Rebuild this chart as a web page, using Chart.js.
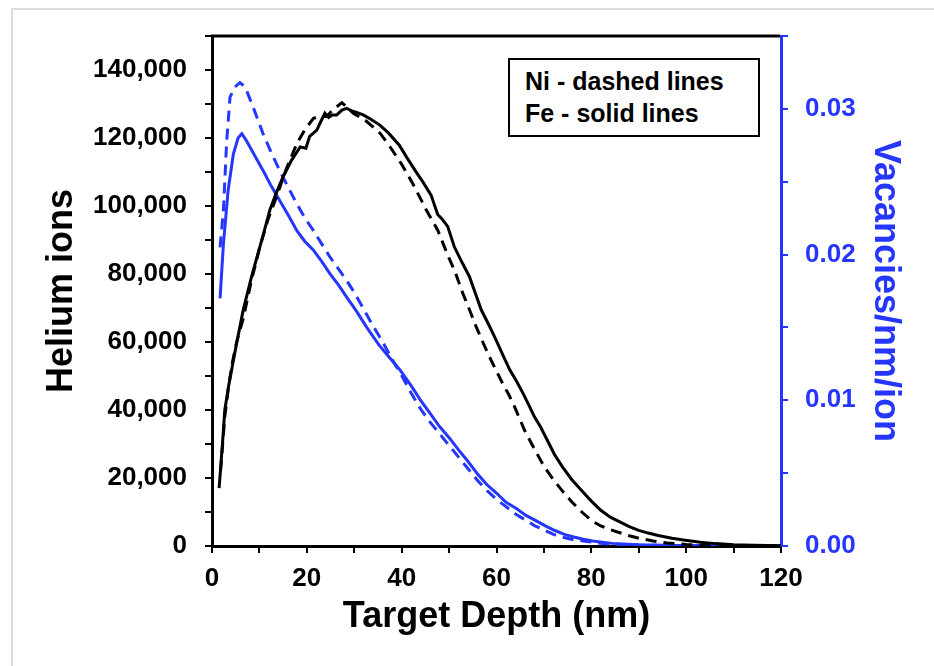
<!DOCTYPE html>
<html>
<head>
<meta charset="utf-8">
<script src="https://cdn.jsdelivr.net/npm/chart.js@4.4.0/dist/chart.umd.min.js"></script>
<style>
  body { margin: 0; background: #fff; }
  #wrap { position: relative; width: 934px; height: 666px; overflow: hidden; }
  #frame { position: absolute; left: 11px; top: 8px; width: 960px; height: 700px;
           border-left: 2px solid #dcdcdc; border-top: 2px solid #dcdcdc; }
  canvas { position: absolute; left: 0; top: 0; }
  #note { position: absolute; left: 508px; top: 58px; width: 252px; height: 79px; box-sizing: border-box;
          border: 2px solid #000; background: #fff; padding: 5px 0 0 15px;
          font: bold 25px "Liberation Sans", Arial, sans-serif; line-height: 32px; color: #000; }
</style>
</head>
<body>
<div id="wrap">
  <div id="frame"></div>
  <canvas id="chart" width="934" height="666"></canvas>
  <div id="note">Ni - dashed lines<br>Fe - solid lines</div>
</div>
<script>
// helium ions vs depth (nm), Fe = solid, Ni = dashed
const depthHeFe = [1.5, 2.2, 2.7, 3.5, 4.3, 5.1, 5.9, 6.6, 7.5, 8.4, 9.4, 10.8, 12.2, 13.6, 15.0, 16.8, 18.6, 19.8, 20.6, 22.1,
  23.0, 23.8, 24.6, 25.4, 26.3, 27.4, 28.4, 29.5, 30.5, 31.9, 33.5, 35.4, 37.2, 39.5, 41.2, 43.0, 44.6, 46.2, 47.6, 48.5,
  49.7, 51.1, 52.7, 54.3, 55.5, 56.8, 58.4, 59.9, 61.4, 62.8, 64.2, 65.6, 66.8, 68.0, 69.3, 70.5, 72.2, 73.9, 75.9, 77.9,
  80.0, 82.0, 84.0, 86.0, 88.0, 90.0, 92.0, 94.1, 97.0, 99.8, 103.0, 106.2, 110.0, 114.3, 120.0];
const heliumFe = [17000, 30000, 40000, 47000, 53000, 59000, 64600, 69500, 74500, 79500, 84500, 91500, 98800, 104000, 108600, 113500, 117400, 117000, 120500, 122300,
  125000, 127300, 126000, 126800, 126800, 128200, 128700, 128000, 127500, 126800, 125500, 123800, 121500, 117900, 114000, 110100, 106800, 103200, 97500, 96200,
  94000, 88000, 83500, 79200, 74500, 69400, 65000, 60600, 56000, 51800, 48500, 44900, 41500, 38000, 35000, 31700, 27000, 23300, 19500, 16400,
  13200, 10500, 8500, 7100, 5700, 4600, 3800, 3100, 2300, 1700, 1100, 700, 400, 200, 50];

const depthHeNi = [1.8, 2.7, 3.5, 4.3, 5.2, 6.6, 8.3, 10.1, 11.8, 13.6, 15.7, 17.9, 19.6, 21.4, 22.5, 24.2, 25.3, 26.3, 27.4, 28.5,
  29.8, 32.5, 35.4, 37.5, 39.9, 42.3, 45.2, 47.6, 49.7, 51.3, 52.9, 54.3, 55.7, 57.1, 58.5, 59.9, 61.3, 62.6, 63.8, 65.9,
  68.0, 70.0, 72.0, 74.0, 76.0, 78.0, 80.0, 82.0, 84.0, 86.0, 88.0, 90.0, 93.0, 96.0, 100.0, 104.0, 110.0, 120.0];
const heliumNi = [22000, 38000, 47000, 54000, 60000, 67000, 78000, 88000, 96000, 102700, 111000, 118400, 122500, 125800, 126300, 126300, 128000, 129200, 130400, 129000,
  127300, 125000, 121500, 117500, 112500, 106700, 98800, 92900, 85600, 80500, 74300, 69500, 64500, 60000, 55700, 51700, 47800, 44500, 41000, 34100,
  28500, 23500, 19500, 16000, 12800, 10000, 7500, 5900, 4800, 3900, 3000, 2300, 1500, 900, 450, 200, 60, 10];

// vacancies per nm per ion vs depth (nm)
const depthVacFe = [1.7, 2.4, 3.4, 4.5, 5.5, 6.3, 7.3, 9.0, 10.8, 12.5, 14.3, 16.1, 17.9, 19.6, 21.4, 23.2, 24.9, 26.7, 28.4, 30.5,
  32.6, 35.2, 37.5, 39.6, 42.0, 44.0, 46.0, 48.0, 50.1, 52.0, 54.0, 56.1, 58.0, 60.1, 62.0, 64.2, 66.2, 68.2, 70.2, 72.2,
  74.3, 76.3, 78.3, 80.3, 84.4, 90.0, 98.0, 110.0, 120.0];
const vacFe = [0.0170, 0.0207, 0.0244, 0.0269, 0.0280, 0.0283, 0.0278, 0.0268, 0.02575, 0.0247, 0.0237, 0.0227, 0.02164, 0.0209, 0.0203, 0.0195, 0.01868, 0.0179, 0.01708, 0.0161,
  0.01502, 0.0138, 0.0129, 0.0121, 0.0110, 0.0100, 0.0091, 0.0082, 0.0074, 0.0066, 0.0058, 0.0049, 0.0042, 0.0036, 0.0030, 0.00257, 0.0021, 0.00176, 0.0014, 0.00108,
  0.0008, 0.00062, 0.00046, 0.00034, 0.00018, 0.00009, 0.00003, 0.00001, 0];

const depthVacNi = [1.7, 2.4, 3.1, 3.8, 4.8, 5.9, 7.0, 8.7, 10.8, 12.5, 14.3, 16.1, 17.9, 19.6, 21.4, 23.2, 24.9, 26.7, 28.4, 30.2,
  33.7, 36.0, 38.0, 40.0, 42.0, 44.0, 46.0, 48.0, 50.0, 52.0, 54.0, 56.0, 58.0, 60.0, 62.0, 64.0, 66.0, 68.0, 70.0, 72.0,
  74.0, 76.0, 78.7, 82.8, 90.0, 100.0, 120.0];
const vacNi = [0.0205, 0.0230, 0.0278, 0.0308, 0.0315, 0.0318, 0.0315, 0.0301, 0.02827, 0.0270, 0.02575, 0.0246, 0.02347, 0.0225, 0.02164, 0.0207, 0.01982, 0.0190, 0.01822, 0.0173,
  0.01525, 0.0140, 0.0128, 0.0117, 0.0105, 0.0094, 0.0085, 0.0077, 0.0069, 0.0061, 0.0053, 0.0045, 0.0038, 0.0032, 0.0027, 0.0022, 0.0018, 0.0014, 0.0011, 0.0008,
  0.0006, 0.00045, 0.00032, 0.00016, 0.00006, 0.00002, 0];

const blue = '#2536ff';
const fontFamily = '"Liberation Sans", Arial, sans-serif';
const tickFont = { family: fontFamily, size: 26, weight: 'bold' };
const titleFont = { family: fontFamily, size: 36, weight: 'bold' };

const pts = (xs, ys) => xs.map((x, i) => ({ x: x, y: ys[i] }));

// black frame line along the top of the plot
const topLine = {
  id: 'topLine',
  afterDraw(chart) {
    const { ctx, chartArea: a } = chart;
    ctx.save();
    ctx.strokeStyle = '#000';
    ctx.lineWidth = 3;
    ctx.beginPath();
    ctx.moveTo(a.left - 1, a.top);
    ctx.lineTo(a.right - 1, a.top);
    ctx.stroke();
    ctx.restore();
  }
};

new Chart(document.getElementById('chart'), {
  type: 'line',
  data: {
    datasets: [
      { data: pts(depthHeFe, heliumFe), yAxisID: 'y', borderColor: '#000' },
      { data: pts(depthHeNi, heliumNi), yAxisID: 'y', borderColor: '#000', borderDash: [11, 7] },
      { data: pts(depthVacFe, vacFe), yAxisID: 'y2', borderColor: blue },
      { data: pts(depthVacNi, vacNi), yAxisID: 'y2', borderColor: blue, borderDash: [11, 7] }
    ]
  },
  options: {
    responsive: false,
    animation: false,
    devicePixelRatio: 1,
    layout: { padding: { top: 36, left: 0, right: 0, bottom: 0 } },
    elements: { point: { radius: 0 }, line: { borderWidth: 3, tension: 0 } },
    plugins: { legend: { display: false }, tooltip: { enabled: false } },
    scales: {
      x: {
        type: 'linear', min: 0, max: 120,
        ticks: { stepSize: 10, autoSkip: false, maxRotation: 0, padding: 10, color: '#000', font: tickFont,
                 callback: v => (v % 20 === 0 ? String(v) : '') },
        grid: { drawOnChartArea: false, tickLength: 7, color: '#000', lineWidth: 2 },
        border: { color: '#000', width: 3 },
        title: { display: true, text: 'Target Depth (nm)', color: '#000', font: titleFont, padding: { top: 0, bottom: 27 } },
        afterFit(s) { s.height = 120; }
      },
      y: {
        position: 'left', min: 0, max: 150000,
        ticks: { stepSize: 10000, autoSkip: false, padding: 18, color: '#000', font: tickFont,
                 callback: v => (v % 20000 === 0 ? v.toLocaleString('en-US') : '') },
        grid: { drawOnChartArea: false, tickLength: 7, color: '#000', lineWidth: 2 },
        border: { color: '#000', width: 3 },
        title: { display: true, text: 'Helium ions', color: '#000', font: titleFont, padding: { top: 40, bottom: 0 } },
        afterFit(s) { s.width = 212; }
      },
      y2: {
        position: 'right', min: 0, max: 0.035,
        ticks: { stepSize: 0.005, autoSkip: false, padding: 17, color: blue, font: tickFont,
                 callback: v => (Math.round(v / 0.005) % 2 === 0 ? v.toFixed(2) : '') },
        grid: { drawOnChartArea: false, tickLength: 7, color: blue, lineWidth: 2 },
        border: { color: blue, width: 3 },
        title: { display: true, text: 'Vacancies/nm/ion', color: blue, font: titleFont, padding: { top: 27, bottom: 0 } },
        afterFit(s) { s.width = 153; }
      }
    }
  },
  plugins: [topLine]
});
</script>
</body>
</html>
